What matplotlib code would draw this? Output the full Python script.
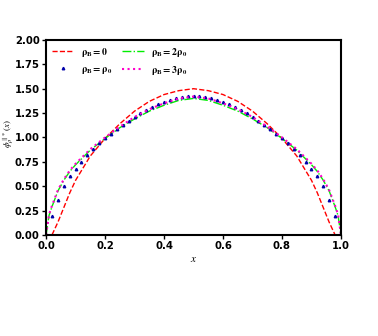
import numpy as np
import matplotlib.pyplot as plt

plt.rcParams['mathtext.fontset'] = 'stix'

# rho_B = 0
x_r = [0.02, 0.04, 0.06, 0.08, 0.1, 0.15, 0.2, 0.25, 0.3, 0.35, 0.4, 0.45, 0.5,
       0.55, 0.6, 0.65, 0.7, 0.75, 0.8, 0.85, 0.9, 0.92, 0.94, 0.96, 0.98]
y_r = [0.0, 0.13, 0.28, 0.43, 0.56, 0.81, 0.99, 1.14, 1.27, 1.37, 1.44, 1.48, 1.50,
       1.48, 1.44, 1.37, 1.27, 1.14, 0.99, 0.81, 0.56, 0.43, 0.28, 0.13, 0.0]

# rho_B = rho_0 (markers)
x_b = [0.0, 0.02, 0.04, 0.06, 0.08, 0.1, 0.12, 0.14, 0.16, 0.18, 0.2, 0.22, 0.24,
       0.26, 0.28, 0.3, 0.32, 0.34, 0.36, 0.38, 0.4, 0.42, 0.44, 0.46, 0.48, 0.5,
       0.52, 0.54, 0.56, 0.58, 0.6, 0.62, 0.64, 0.66, 0.68, 0.7, 0.72, 0.74, 0.76,
       0.78, 0.8, 0.82, 0.84, 0.86, 0.88, 0.9, 0.92, 0.94, 0.96, 0.98, 1.0]
y_b = [0.0, 0.19, 0.36, 0.50, 0.60, 0.68, 0.75, 0.82, 0.88, 0.94, 0.99, 1.04, 1.09,
       1.13, 1.17, 1.21, 1.25, 1.28, 1.31, 1.34, 1.36, 1.38, 1.40, 1.41, 1.42, 1.42,
       1.42, 1.41, 1.40, 1.38, 1.36, 1.34, 1.31, 1.28, 1.25, 1.21, 1.17, 1.13, 1.09,
       1.04, 0.99, 0.94, 0.88, 0.82, 0.75, 0.68, 0.60, 0.50, 0.36, 0.19, 0.0]

# rho_B = 2 rho_0 and 3 rho_0
x_g = [0.0, 0.01, 0.02, 0.04, 0.06, 0.08, 0.1, 0.15, 0.2, 0.25, 0.3, 0.35, 0.4, 0.45, 0.5,
       0.55, 0.6, 0.65, 0.7, 0.75, 0.8, 0.85, 0.9, 0.92, 0.94, 0.96, 0.98, 0.99, 1.0]
y_g = [0.0, 0.20, 0.29, 0.45, 0.56, 0.65, 0.72, 0.87, 0.99, 1.10, 1.19, 1.27, 1.33, 1.38, 1.40,
       1.38, 1.33, 1.27, 1.19, 1.10, 0.99, 0.87, 0.72, 0.65, 0.56, 0.45, 0.29, 0.20, 0.0]
y_m = [0.0, 0.21, 0.30, 0.46, 0.57, 0.66, 0.73, 0.88, 1.00, 1.11, 1.21, 1.29, 1.35, 1.40, 1.42,
       1.40, 1.35, 1.29, 1.21, 1.11, 1.00, 0.88, 0.73, 0.66, 0.57, 0.46, 0.30, 0.21, 0.0]

fig = plt.figure(figsize=(3.78, 3.36), dpi=100)
ax = fig.add_axes([0.122, 0.301, 0.780, 0.580])

ax.plot(x_r, y_r, color='red', ls='--', lw=1.0, label=r'$\mathbf{\rho_B=0}$')
ax.plot(x_g, y_g, color='#00ee00', ls='-.', lw=1.0, label=r'$\mathbf{\rho_B=2\rho_0}$')
ax.plot(x_b, y_b, color='#0000aa', ls='none', marker='^', ms=1.8, label=r'$\mathbf{\rho_B=\rho_0}$')
ax.plot(x_g, y_m, color='#ff00cc', ls=':', lw=1.5, label=r'$\mathbf{\rho_B=3\rho_0}$')

h, l = ax.get_legend_handles_labels()
order = [0, 2, 1, 3]
ax.legend([h[i] for i in order], [l[i] for i in order], ncol=2, loc='upper left',
          frameon=False, fontsize=7, handlelength=2.2, columnspacing=1.0,
          borderaxespad=0.2)

ax.set_xlim(0, 1)
ax.set_ylim(0, 2)
ax.set_xticks([0, 0.2, 0.4, 0.6, 0.8, 1.0])
ax.set_yticks([0, 0.25, 0.5, 0.75, 1.0, 1.25, 1.5, 1.75, 2.0])
ax.set_yticklabels(['0.00', '0.25', '0.50', '0.75', '1.00', '1.25', '1.50', '1.75', '2.00'])
for lab in ax.get_xticklabels() + ax.get_yticklabels():
    lab.set_fontweight('bold')
    lab.set_fontsize(7.3)
ax.tick_params(length=3, width=1, pad=1.5)
for s in ax.spines.values():
    s.set_linewidth(1.5)

ax.set_xlabel(r'$x$', fontsize=8, labelpad=2)
ax.set_ylabel(r'$\phi_\rho^{\parallel *}(x)$', fontsize=6.5)
ax.yaxis.set_label_coords(-0.102, 0.52)

fig.savefig('out.png', dpi=100)
